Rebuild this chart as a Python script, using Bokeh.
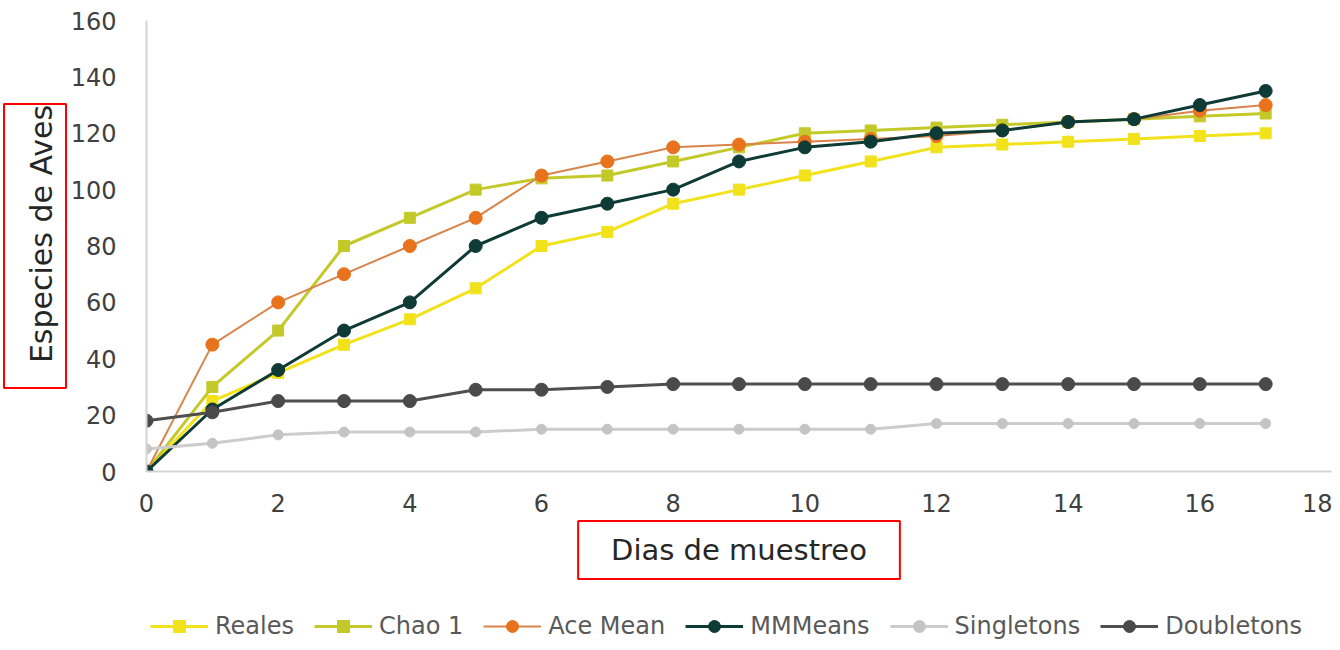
from bokeh.plotting import figure
from bokeh.layouts import column
from bokeh.models import Range1d, Legend, LegendItem, FixedTicker, Title
from bokeh.embed import file_html
from bokeh.resources import INLINE

dias = list(range(0, 18))
reales = [0, 25, 35, 45, 54, 65, 80, 85, 95, 100, 105, 110, 115, 116, 117, 118, 119, 120]
chao1 = [0, 30, 50, 80, 90, 100, 104, 105, 110, 115, 120, 121, 122, 123, 124, 125, 126, 127]
ace_mean = [0, 45, 60, 70, 80, 90, 105, 110, 115, 116, 117, 118, 119, 121, 124, 125, 128, 130]
mmmeans = [0, 22, 36, 50, 60, 80, 90, 95, 100, 110, 115, 117, 120, 121, 124, 125, 130, 135]
singletons = [8, 10, 13, 14, 14, 14, 15, 15, 15, 15, 15, 15, 17, 17, 17, 17, 17, 17]
doubletons = [18, 21, 25, 25, 25, 29, 29, 30, 31, 31, 31, 31, 31, 31, 31, 31, 31, 31]

x_ticks = [0, 2, 4, 6, 8, 10, 12, 14, 16, 18]
y_ticks = [0, 20, 40, 60, 80, 100, 120, 140, 160]

FONT = "DejaVu Sans"

p = figure(width=1332, height=590, output_backend="svg", toolbar_location=None,
           x_range=Range1d(0, 18), y_range=Range1d(0, 160),
           min_border_left=146, min_border_right=1, min_border_top=20,
           min_border_bottom=119)
p.outline_line_color = None
p.xgrid.visible = False
p.ygrid.visible = False

for ax in (p.xaxis[0], p.yaxis[0]):
    ax.major_tick_line_color = None
    ax.minor_tick_line_color = None
    ax.axis_line_color = "#d4d4d4"
    ax.axis_line_width = 2
    ax.major_label_text_font = FONT
    ax.major_label_text_font_size = "24px"
    ax.major_label_text_color = "#404040"

p.xaxis.ticker = FixedTicker(ticks=x_ticks)
p.yaxis.ticker = FixedTicker(ticks=y_ticks)
p.xaxis.major_label_standoff = 16
p.yaxis.major_label_standoff = 24

# legend strip below the chart (its own canvas, so the legend is not clipped)
p_leg = figure(width=1332, height=52, output_backend="svg", toolbar_location=None,
               x_range=Range1d(0, 1), y_range=Range1d(1000, 1001),
               x_axis_location=None, y_axis_location=None, min_border=0)
p_leg.outline_line_color = None
p_leg.grid.visible = False

series = [
    ("Reales", reales, "#f2e21b", "#f2e21b", "square", 11, 3),
    ("Chao 1", chao1, "#c4c92a", "#c4c92a", "square", 11, 3),
    ("Ace Mean", ace_mean, "#d8844a", "#e8731c", "circle", 13, 2),
    ("MMMeans", mmmeans, "#0e3b35", "#0e3b35", "circle", 13, 3),
    ("Singletons", singletons, "#cccccc", "#c4c4c4", "circle", 10, 3),
    ("Doubletons", doubletons, "#4f4f4f", "#4a4a4a", "circle", 13, 3),
]

items = []
for name, vals, lc, mc, mk, ms, lw in series:
    p.line(dias, vals, line_color=lc, line_width=lw)
    p.scatter(dias, vals, marker=mk, size=ms, fill_color=mc, line_color=mc)
    r1 = p_leg.line(dias, vals, line_color=lc, line_width=lw)
    r2 = p_leg.scatter(dias, vals, marker=mk, size=ms, fill_color=mc, line_color=mc)
    items.append(LegendItem(label=name, renderers=[r1, r2]))

ytitle = Title(text="Especies de Aves", align="center", text_font=FONT,
               text_font_size="30px", text_font_style="normal",
               text_color="#262626", border_line_color="#ff0000",
               border_line_width=2, padding=(25, 1, 20, 7), standoff=3)
p.add_layout(ytitle, "left")

xtitle = Title(text="Dias de muestreo", align="center", text_font=FONT,
               text_font_size="29px", text_font_style="normal",
               text_color="#262626", border_line_color="#ff0000",
               border_line_width=2, padding=(33, 12), standoff=9)
p.add_layout(xtitle, "below")

legend = Legend(items=items, orientation="horizontal", location=(4, 1),
                label_text_font=FONT, label_text_font_size="24px",
                label_text_color="#595959", glyph_width=58, glyph_height=30,
                label_height=30, label_standoff=7, spacing=20, padding=0,
                margin=0, border_line_color=None, background_fill_alpha=0)
p_leg.add_layout(legend, "center")

layout = column(p, p_leg, spacing=0)
open("out.html", "w").write(file_html(layout, INLINE))
